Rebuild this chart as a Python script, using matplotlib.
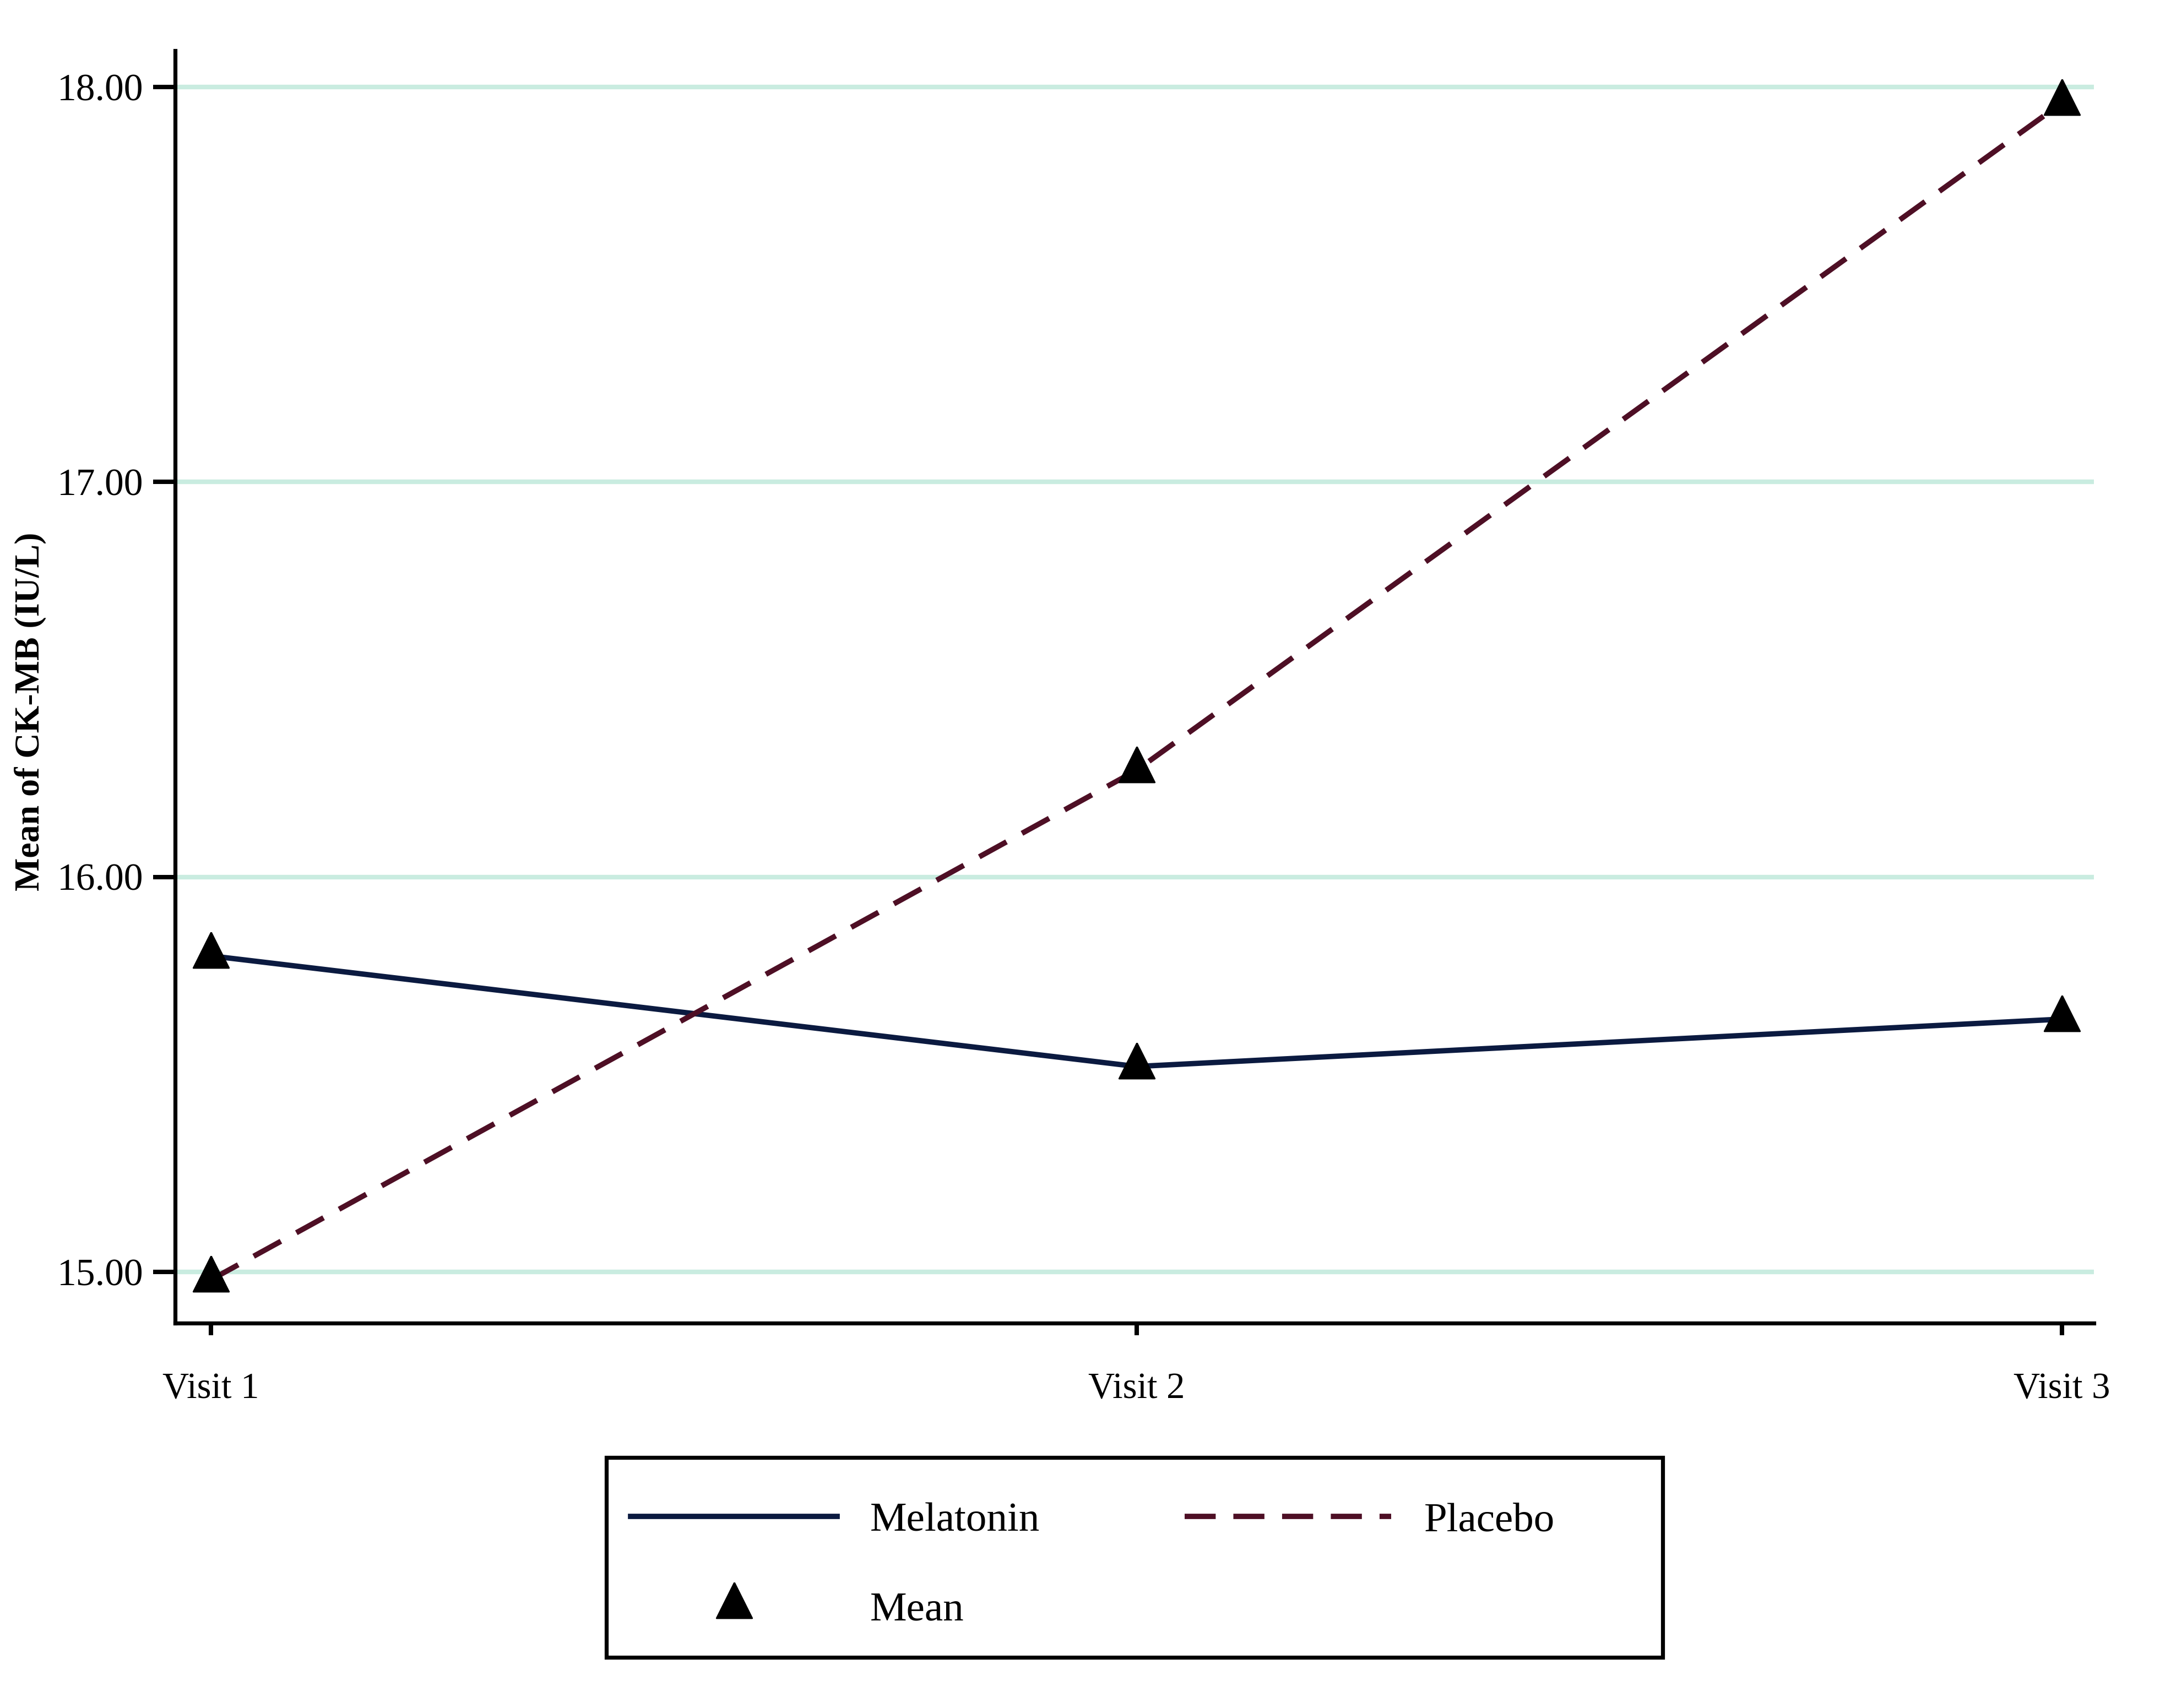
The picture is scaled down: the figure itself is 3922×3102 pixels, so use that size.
import numpy as np
import matplotlib
matplotlib.use("Agg")
import matplotlib.pyplot as plt
from matplotlib.lines import Line2D
from matplotlib.patches import Rectangle

# values
visits = ["Visit 1", "Visit 2", "Visit 3"]
melatonin = [15.80, 15.52, 15.64]
placebo = [14.98, 16.27, 17.96]
y_ticks = [15.0, 16.0, 17.0, 18.0]

plt.rcParams["font.family"] = ["Liberation Serif", "DejaVu Serif"]

MEL_COLOR = "#0b1a40"
PLA_COLOR = "#4e0f25"
GRID_COLOR = "#c9ece0"
LW = 3.5
DASH = (5.8, 3.3)
MS = 31

# triangle with its centroid on the data point (like the SPSS marker)
tri = [(0, 2), (-1.5, -1), (1.5, -1), (0, 2)]

fig = plt.figure(figsize=(19.61, 15.51), dpi=200)
ax = fig.add_axes([0.0811, 0.2253, 0.8883, 0.745])

x = np.arange(1, len(visits) + 1)

ax.plot(x, melatonin, color=MEL_COLOR, lw=LW, zorder=3)
ax.plot(x, placebo, color=PLA_COLOR, lw=LW, dashes=DASH, zorder=3)
ax.plot(x, melatonin, marker=tri, ls="none", color="black", ms=MS, zorder=4)
ax.plot(x, placebo, marker=tri, ls="none", color="black", ms=MS, zorder=4)

ax.set_xlim(0.9613, 3.0345)
ax.set_ylim(14.870, 18.092)

ax.set_xticks(x, visits)
ax.set_yticks(y_ticks, [f"{v:.2f}" for v in y_ticks])
ax.yaxis.grid(True, color=GRID_COLOR, lw=3)
ax.set_axisbelow(True)

ax.tick_params(axis="y", length=14.4, width=2.9, pad=6.5, labelsize=25)
ax.tick_params(axis="x", length=8, width=2.9, pad=24, labelsize=24)
for side in ["top", "right"]:
    ax.spines[side].set_visible(False)
for side in ["left", "bottom"]:
    ax.spines[side].set_linewidth(2.6)

ax.set_ylabel("Mean of CK-MB (IU/L)", fontsize=23, fontweight="bold")
ax.yaxis.set_label_coords(-0.067, 0.4807)

# legend below the plot, boxed
handles = [
    Line2D([], [], color=MEL_COLOR, lw=LW),
    Line2D([], [], marker=tri, ls="none", color="black", ms=MS),
    Line2D([], [], color=PLA_COLOR, lw=LW, dashes=DASH),
]
labels = ["Melatonin", "Mean", "Placebo"]
fig.legend(handles, labels, ncol=2, loc="upper left", bbox_to_anchor=(0.292, 0.1205),
           frameon=False, fontsize=27, handlelength=5.0, handletextpad=0.8,
           columnspacing=3.5, labelspacing=1.25, borderpad=0, borderaxespad=0)
fig.add_artist(Rectangle((0.2806, 0.0298), 0.4892, 0.117, transform=fig.transFigure,
                         fill=False, lw=2.6, ec="black"))

fig.savefig("out.png", dpi=200)
